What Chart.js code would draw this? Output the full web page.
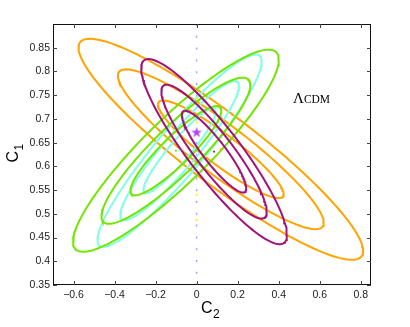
<!DOCTYPE html>
<html><head><meta charset="utf-8">
<script src="https://cdn.jsdelivr.net/npm/chart.js@4/dist/chart.umd.min.js"></script>
<style>html,body{margin:0;padding:0;background:#fff}#wrap{width:410px;height:327px}</style>
</head><body><div id="wrap"><canvas id="c" width="410" height="327"></canvas></div>
<script>
// ---- data ----
const probeNames = ['purple', 'green', 'cyan', 'orange'];
const probeColours = ['#a3127b', '#72e600', '#80ffe2', '#ffa400'];
const centreC2 = [0.085, -0.101, -0.083, 0.118];
const centreC1 = [0.631, 0.633, 0.633, 0.636];
const sigmaC2 = [0.1034, 0.146, 0.1165, 0.202];
const sigmaC1 = [0.0568, 0.062, 0.059, 0.0678];
const corrC1C2 = [-0.90, 0.90, 0.93, -0.92];
const sigmaLevels = [1.517, 2.484, 3.435]; // sqrt(delta chi^2): 68.3, 95.4, 99.73 %
const fiducialC2 = [0];
const fiducialC1 = [0.672];
const markerC1 = [0.743, 0.692, 0.540, 0.487];
const lineC1 = [0.9, 0.35];
const xTicks = [-0.6, -0.4, -0.2, 0, 0.2, 0.4, 0.6, 0.8];
const yTicks = [0.35, 0.4, 0.45, 0.5, 0.55, 0.6, 0.65, 0.7, 0.75, 0.8, 0.85];
const modelLabel = ['Λ', 'CDM'];

// ---- build contour outlines from the Gaussian parameters ----
function contour(i, k) {
  const pts = [];
  const n = 160;
  const r = corrC1C2[i], s = Math.sqrt(1 - r * r);
  for (let j = 0; j <= n; j++) {
    const t = 2 * Math.PI * j / n;
    pts.push({
      x: centreC2[i] + k * sigmaC2[i] * Math.cos(t),
      y: centreC1[i] + k * sigmaC1[i] * (r * Math.cos(t) + s * Math.sin(t))
    });
  }
  return pts;
}

function starImage(colour) {
  const c = document.createElement('canvas');
  c.width = 12; c.height = 12;
  const g = c.getContext('2d');
  g.fillStyle = colour;
  g.beginPath();
  for (let j = 0; j < 10; j++) {
    const a = -Math.PI / 2 + j * Math.PI / 5;
    const rr = j % 2 ? 2.2 : 5.6;
    const px = 6 + rr * Math.cos(a), py = 6.4 + rr * Math.sin(a);
    j ? g.lineTo(px, py) : g.moveTo(px, py);
  }
  g.closePath(); g.fill();
  return c;
}

const datasets = [];
datasets.push({
  label: 'fiducial', data: fiducialC2.map((x, i) => ({x, y: fiducialC1[i]})),
  showLine: false, pointStyle: starImage('#b444f0'), pointRadius: 6
});
datasets.push({
  label: 'markers', data: markerC1.map(y => ({x: 0, y})),
  showLine: false, pointStyle: 'rect', pointRadius: 1.2,
  backgroundColor: '#f2f200', borderColor: '#f2f200', borderWidth: 0
});
datasets.push({
  label: 'centres', data: centreC2.map((x, i) => ({x, y: centreC1[i]})),
  showLine: false, pointStyle: 'rect', pointRadius: 1.3,
  backgroundColor: probeColours, borderColor: probeColours, borderWidth: 0
});
probeNames.forEach((name, i) => {
  sigmaLevels.forEach(k => {
    datasets.push({
      label: name + ' ' + k, data: contour(i, k), showLine: true,
      borderColor: probeColours[i], borderWidth: 2, pointRadius: 0, tension: 0, fill: false
    });
  });
});
datasets.push({
  label: 'C2=0', data: lineC1.map(y => ({x: 0, y})), showLine: true,
  borderColor: '#9ea4ff', borderWidth: 1.5, borderDash: [2, 9.8], pointRadius: 0
});

const frame = {
  id: 'frame',
  afterDraw(chart) {
    const g = chart.ctx, a = chart.chartArea;
    const xs = chart.scales.x, ys = chart.scales.y;
    g.save();
    g.strokeStyle = '#111'; g.lineWidth = 1;
    g.strokeRect(Math.round(a.left) + 0.5, Math.round(a.top) + 0.5,
                 Math.round(a.right - a.left) - 1, Math.round(a.bottom - a.top) - 1);
    g.strokeStyle = '#444';
    g.beginPath();
    xTicks.forEach(v => {
      const p = Math.round(xs.getPixelForValue(v)) + 0.5;
      g.moveTo(p, a.bottom); g.lineTo(p, a.bottom - 4);
      g.moveTo(p, a.top); g.lineTo(p, a.top + 4);
    });
    yTicks.forEach(v => {
      const p = Math.round(ys.getPixelForValue(v)) + 0.5;
      g.moveTo(a.left, p); g.lineTo(a.left + 4, p);
      g.moveTo(a.right, p); g.lineTo(a.right - 4, p);
    });
    g.stroke();
    // axis titles
    g.fillStyle = '#000';
    g.textBaseline = 'alphabetic';
    g.font = '16px "Liberation Sans", Arial, sans-serif';
    const cx = (a.left + a.right) / 2;
    g.textAlign = 'left';
    g.fillText('C', cx - 11, 313);
    g.font = '12px "Liberation Sans", Arial, sans-serif';
    g.fillText('2', cx + 1, 318);
    g.save();
    g.translate(18, (a.top + a.bottom) / 2 + 8);
    g.rotate(-Math.PI / 2);
    g.font = '16px "Liberation Sans", Arial, sans-serif';
    g.fillText('C', 0, 0);
    g.font = '12px "Liberation Sans", Arial, sans-serif';
    g.fillText('1', 12, 5);
    g.restore();
    // model label
    g.font = '15px "Liberation Serif", "Times New Roman", serif';
    g.fillText(modelLabel[0], 293, 103);
    const w = g.measureText(modelLabel[0]).width;
    g.font = '11.5px "Liberation Serif", "Times New Roman", serif';
    g.fillText(modelLabel[1], 293 + w, 103);
    g.restore();
  }
};

new Chart(document.getElementById('c'), {
  type: 'scatter',
  data: {datasets},
  options: {
    responsive: false, animation: false, devicePixelRatio: 1,
    layout: {padding: {top: 24, right: 39, left: 0, bottom: 0}},
    plugins: {legend: {display: false}, tooltip: {enabled: false}},
    scales: {
      x: {
        min: -0.7, max: 0.85,
        grid: {display: false, drawTicks: false}, border: {display: false},
        afterBuildTicks: s => { s.ticks = xTicks.map(v => ({value: v})); },
        afterFit: s => { s.height = 42; },
        ticks: {padding: 4, color: '#222', maxRotation: 0, autoSkip: false,
          font: {family: '"Liberation Sans", Arial, sans-serif', size: 10.5},
          callback: v => (v < 0 ? '\u2212' : '') + String(Math.abs(Math.round(v * 100) / 100))}
      },
      y: {
        min: 0.35, max: 0.9,
        grid: {display: false, drawTicks: false}, border: {display: false},
        afterBuildTicks: s => { s.ticks = yTicks.map(v => ({value: v})); },
        afterFit: s => { s.width = 53; },
        ticks: {padding: 3, color: '#222', autoSkip: false,
          font: {family: '"Liberation Sans", Arial, sans-serif', size: 10.5},
          callback: v => String(Math.round(v * 100) / 100)}
      }
    }
  },
  plugins: [frame]
});
</script>
</body></html>
